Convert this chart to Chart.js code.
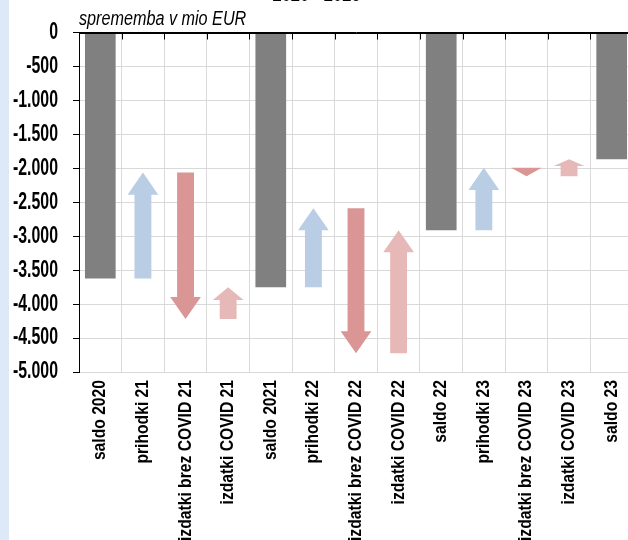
<!DOCTYPE html>
<html><head><meta charset="utf-8">
<script src="https://cdn.jsdelivr.net/npm/chart.js@4"></script>
<style>
html,body{margin:0;padding:0;width:628px;height:540px;overflow:hidden;background:#fff;}
#wrap{position:absolute;left:0;top:-18px;width:648px;height:558px;}
#strip{position:absolute;left:0;top:0;width:9px;height:540px;background:#dde9f6;z-index:2;}
</style></head><body>
<div id="wrap"><canvas id="c" width="648" height="558"></canvas></div>
<div id="strip"></div>
<script>
const categories = ['saldo 2020','prihodki 21','izdatki brez COVID 21','izdatki COVID 21','saldo 2021','prihodki 22','izdatki brez COVID 22','izdatki COVID 22','saldo 22','prihodki 23','izdatki brez COVID 23','izdatki COVID 23','saldo 23'];
const saldo            = [-3620, null, null, null, -3750, null, null, null, -2910, null, null, null, -1865];
const prihodki         = [null, 1560, null, null, null, 1165, null, null, null, 920, null, null, null];
const izdatkiBrezCovid = [null, null, -2160, null, null, null, -2140, null, null, null, -125, null, null];
const izdatkiCovid     = [null, null, null, 470, null, null, null, 1815, null, null, null, 250, null];
const yMin = -5000, yMax = 0, yStep = 500;
const titleText = '2020 - 2023';
const subtitleText = 'sprememba v mio EUR';

// build floating [from, to] ranges for the waterfall arrows
const deltaSeries = [prihodki, izdatkiBrezCovid, izdatkiCovid];
const ranges = deltaSeries.map(() => categories.map(() => null));
let level = 0;
categories.forEach((c, i) => {
  if (saldo[i] !== null) { level = saldo[i]; return; }
  deltaSeries.forEach((s, k) => {
    if (s[i] !== null) { ranges[k][i] = [level, level + s[i]]; level += s[i]; }
  });
});

const FONT = "'Liberation Sans',Arial,sans-serif";
// horizontal condensing per font size (narrow face look)
const SX_BY_SIZE = { 23: 0.69, 18: 0.87, 19.5: 0.83, 22: 0.75 };
const fmt = v => v === 0 ? '0' : (v < 0 ? '-' : '') + String(Math.abs(v)).replace(/\B(?=(\d{3})+(?!\d))/g, '.');

const canvas = document.getElementById('c');
const cx = canvas.getContext('2d');
const nativeFill = cx.fillText.bind(cx);
const nativeMeasure = cx.measureText.bind(cx);
function curSX(ctx) {
  const m = /(\d+(?:\.\d+)?)px/.exec(ctx.font);
  const s = m ? parseFloat(m[1]) : 0;
  return SX_BY_SIZE[s] || 0.8;
}
cx.fillText = function (t, x, y, maxW) {
  const sx = curSX(this);
  this.save();
  this.translate(x, y);
  this.scale(sx, 1);
  if (typeof maxW === 'number' && isFinite(maxW)) nativeFill(t, 0, 0, maxW / sx); else nativeFill(t, 0, 0);
  this.restore();
};
cx.measureText = function (t) {
  const sx = curSX(this);
  const m = nativeMeasure(t);
  return {
    width: m.width * sx,
    actualBoundingBoxLeft: m.actualBoundingBoxLeft * sx,
    actualBoundingBoxRight: m.actualBoundingBoxRight * sx,
    actualBoundingBoxAscent: m.actualBoundingBoxAscent,
    actualBoundingBoxDescent: m.actualBoundingBoxDescent,
    fontBoundingBoxAscent: m.fontBoundingBoxAscent,
    fontBoundingBoxDescent: m.fontBoundingBoxDescent
  };
};

const arrowPlugin = {
  id: 'arrows',
  afterDatasetsDraw(chart) {
    const ctx = chart.ctx, ys = chart.scales.y, xs = chart.scales.x;
    chart.data.datasets.forEach((ds, di) => {
      if (!ds.arrowColor) return;
      const meta = chart.getDatasetMeta(di);
      ds.data.forEach((r, i) => {
        if (!r) return;
        const el = meta.data[i];
        const x = el.x, w = el.width;
        const y0 = ys.getPixelForValue(r[0]), y1 = ys.getPixelForValue(r[1]);
        const len = Math.abs(y1 - y0);
        const dir = y1 < y0 ? -1 : 1;
        const headW = w, shaftW = w * 0.55;
        const headL = len < 12 ? len : Math.min(w * 0.72, len * 0.4);
        const yh = y1 - dir * headL;
        ctx.save();
        ctx.fillStyle = ds.arrowColor;
        ctx.beginPath();
        ctx.moveTo(x - shaftW / 2, y0);
        ctx.lineTo(x - shaftW / 2, yh);
        ctx.lineTo(x - headW / 2, yh);
        ctx.lineTo(x, y1);
        ctx.lineTo(x + headW / 2, yh);
        ctx.lineTo(x + shaftW / 2, yh);
        ctx.lineTo(x + shaftW / 2, y0);
        ctx.closePath();
        ctx.fill();
        ctx.restore();
      });
    });
    // zero line on top with inward tick marks at category boundaries
    const y0 = Math.round(ys.getPixelForValue(0)) + 0.5;
    ctx.save();
    ctx.strokeStyle = '#000';
    ctx.lineWidth = 1;
    ctx.beginPath();
    ctx.moveTo(chart.chartArea.left, y0);
    ctx.lineTo(chart.chartArea.right, y0);
    for (let i = 1; i <= categories.length; i++) {
      const xb = Math.round(i < categories.length ? (xs.getPixelForValue(i - 1) + xs.getPixelForValue(i)) / 2 : chart.chartArea.right) + 0.5;
      ctx.moveTo(xb, y0);
      ctx.lineTo(xb, y0 + 6);
    }
    ctx.stroke();
    ctx.restore();
  }
};

new Chart(canvas, {
  type: 'bar',
  data: {
    labels: categories,
    datasets: [
      { label: 'saldo', data: saldo, backgroundColor: '#808080' },
      { label: 'prihodki', data: ranges[0], backgroundColor: 'rgba(0,0,0,0)', arrowColor: '#b9cde5' },
      { label: 'izdatki brez COVID', data: ranges[1], backgroundColor: 'rgba(0,0,0,0)', arrowColor: '#d99694' },
      { label: 'izdatki COVID', data: ranges[2], backgroundColor: 'rgba(0,0,0,0)', arrowColor: '#e6b9b8' }
    ]
  },
  options: {
    responsive: false,
    animation: false,
    devicePixelRatio: 1,
    datasets: { bar: { grouped: false, categoryPercentage: 1, barPercentage: 0.72 } },
    layout: { padding: { left: 0, right: 15, top: 0, bottom: 0 } },
    plugins: {
      legend: { display: false },
      tooltip: { enabled: false },
      title: { display: true, text: titleText, color: '#000', font: { family: FONT, size: 22, weight: 'bold', lineHeight: 1.2 }, padding: { top: 0, bottom: 0 } },
      subtitle: { display: true, text: subtitleText, align: 'start', fullSize: false, color: '#000', font: { family: FONT, size: 19.5, style: 'italic', lineHeight: 1.15 }, padding: { top: 0, bottom: 2 } }
    },
    scales: {
      x: {
        grid: { color: '#d9d9d9', drawTicks: false, offset: true },
        border: { color: '#d9d9d9' },
        ticks: { autoSkip: false, minRotation: 90, maxRotation: 90, padding: 8, color: '#000', font: { family: FONT, size: 18, weight: 'bold' } },
        afterFit(s) { s.height = 168; }
      },
      y: {
        min: yMin, max: yMax,
        grid: { color: c => (c.tick && c.tick.value === 0) ? '#000' : '#d9d9d9', tickColor: '#000', tickLength: 6 },
        border: { color: '#000' },
        ticks: { stepSize: yStep, padding: 15, color: '#000', font: { family: FONT, size: 23, weight: 'bold' }, callback: v => fmt(v) },
        afterFit(s) { s.width = 79; }
      }
    }
  },
  plugins: [arrowPlugin]
});
</script>
</body></html>
